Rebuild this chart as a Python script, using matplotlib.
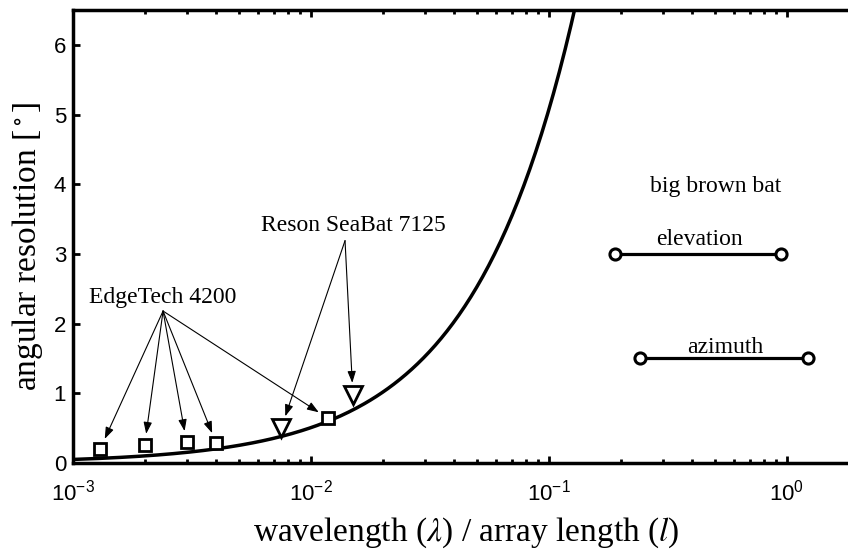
import numpy as np
import matplotlib
matplotlib.use('Agg')
import matplotlib.pyplot as plt

plt.rcParams['font.family'] = 'Liberation Sans'
plt.rcParams['mathtext.fontset'] = 'custom'
plt.rcParams['mathtext.rm'] = 'Liberation Sans'
plt.rcParams['mathtext.it'] = 'Liberation Sans:italic'

# dati
edgetech_x = [0.0013, 0.002, 0.003, 0.004, 0.0118]
edgetech_y = [0.20, 0.26, 0.30, 0.28, 0.64]
reson_x = [0.0075, 0.015]
reson_y = [0.50, 0.97]
elevation_x = [0.189, 0.944]
elevation_y = [3.0, 3.0]
azimuth_x = [0.241, 1.22]
azimuth_y = [1.5, 1.5]

# curva teorica: larghezza del fascio 0.886 lambda/l (rad) in gradi
beam_factor = 0.886
curve_x = np.logspace(-3, np.log10(2), 400)
curve_y = np.degrees(beam_factor * curve_x)

fig = plt.figure(figsize=(8.48, 5.54), dpi=100)
ax = fig.add_axes([0.0861, 0.1643, 0.9264, 0.8177])

ax.plot(curve_x, curve_y, color='k', lw=2.5)
ax.plot(edgetech_x, edgetech_y, 's', ms=8.5, mfc='white', mec='k', mew=2, ls='none')
ax.plot(reson_x, reson_y, 'v', ms=13, mfc='white', mec='k', mew=2, ls='none')
ax.plot(elevation_x, elevation_y, '-o', color='k', lw=2.3, ms=8, mfc='white', mew=2.2)
ax.plot(azimuth_x, azimuth_y, '-o', color='k', lw=2.3, ms=8, mfc='white', mew=2.2)

serif = 'Liberation Serif'
tsize = 17

# etichette e frecce
ax.text(0.00239, 2.38, 'EdgeTech 4200', family=serif, fontsize=tsize, ha='center', va='center')
for x, y in zip(edgetech_x, edgetech_y):
    ax.annotate('', xy=(x, y), xytext=(0.00239, 2.18),
                arrowprops=dict(arrowstyle='-|>,head_length=0.5,head_width=0.18', color='k',
                                lw=0.8, mutation_scale=14, shrinkA=0, shrinkB=8))

ax.text(0.015, 3.41, 'Reson SeaBat 7125', family=serif, fontsize=tsize, ha='center', va='center')
for x, y in zip(reson_x, reson_y):
    ax.annotate('', xy=(x, y), xytext=(0.0139, 3.19),
                arrowprops=dict(arrowstyle='-|>,head_length=0.5,head_width=0.18', color='k',
                                lw=0.8, mutation_scale=14, shrinkA=0, shrinkB=9))

ax.text(0.5, 3.97, 'big brown bat', family=serif, fontsize=tsize, ha='center', va='center')
ax.text(0.43, 3.2, 'elevation', family=serif, fontsize=tsize, ha='center', va='center')
ax.text(0.55, 1.65, 'azimuth', family=serif, fontsize=tsize, ha='center', va='center')

ax.set_xscale('log')
ax.set_xlim(1e-3, 2)
ax.set_ylim(0, 6.5)
ax.set_yticks(range(0, 7))

ax.set_xlabel(r'wavelength ($\lambda$) / array length ($l$)', family=serif, fontsize=24,
              math_fontfamily='stix', labelpad=7)
ax.set_ylabel(r'angular resolution [$^\circ$]', family=serif, fontsize=24,
              math_fontfamily='stix')
ax.yaxis.set_label_coords(-0.036, 0.478)

for s in ax.spines.values():
    s.set_linewidth(2.5)
ax.tick_params(which='both', direction='in', top=True, right=False, labelsize=16, width=2)
ax.tick_params(which='major', length=5)
ax.tick_params(axis='x', which='major', pad=12)
ax.tick_params(axis='y', which='major', pad=5)
ax.tick_params(which='minor', length=3)

fig.savefig('out.png', dpi=100)
plt.close()
